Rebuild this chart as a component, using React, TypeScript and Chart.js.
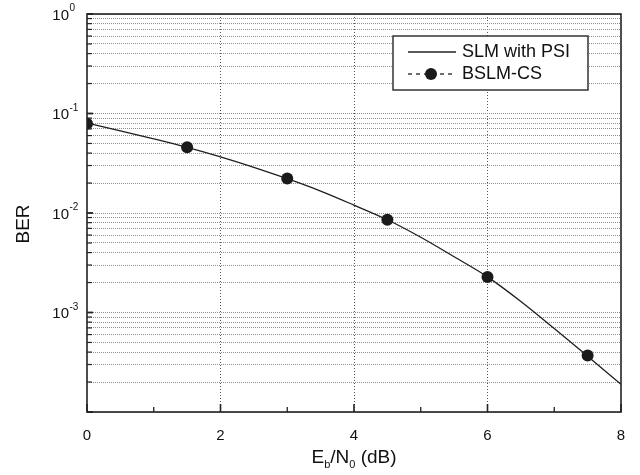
import { useEffect, useRef } from 'react';
import { Chart, registerables } from 'chart.js';

Chart.register(...registerables);

const snrLine = [0, 0.5, 1, 1.5, 2, 2.5, 3, 3.5, 4, 4.5, 5, 5.5, 6, 6.5, 7, 7.5, 8];
const berSLM = [0.080, 0.067, 0.0556, 0.0457, 0.0367, 0.0288, 0.0221, 0.0166, 0.0120, 0.00855, 0.0057, 0.00363, 0.00228, 0.00129, 0.00069, 0.000363, 0.00019];
const snrMarkers = [0, 1.5, 3, 4.5, 6, 7.5];
const berBSLM = [0.079, 0.0457, 0.0222, 0.00855, 0.00228, 0.00037];
const seriesNames = ['SLM with PSI', 'BSLM-CS'];
const xMajorTicks = [0, 2, 4, 6, 8];
const xMinorTicks = [1, 3, 5, 7];
const yDecades = [1, 0.1, 0.01, 0.001, 0.0001];
const yDecadeExponents = ['0', '-1', '-2', '-3', ''];
const yMantissas = [1, 2, 3, 4, 5, 6, 7, 8, 9];

const FONT = '"Liberation Sans", Arial, Helvetica, sans-serif';

const yGridValues: number[] = [];
yDecades.forEach((d) => {
  if (d < 1) yMantissas.forEach((m) => yGridValues.push(m * d));
});
yGridValues.push(1);

const overlay = {
  id: 'overlay',
  afterDraw(chart: any) {
    const ctx: CanvasRenderingContext2D = chart.ctx;
    const { left, right, top, bottom } = chart.chartArea;
    const xs = chart.scales.x;
    const ys = chart.scales.y;
    ctx.save();
    ctx.strokeStyle = '#222';
    ctx.fillStyle = '#111';

    // frame
    ctx.lineWidth = 1.6;
    ctx.strokeRect(left, top, right - left, bottom - top);

    // y ticks inside
    yGridValues.forEach((v) => {
      const py = ys.getPixelForValue(v);
      const major = yDecades.some((d) => Math.abs(d - v) / d < 1e-9);
      ctx.lineWidth = major ? 1.8 : 1.2;
      ctx.beginPath();
      ctx.moveTo(left, py);
      ctx.lineTo(left + (major ? 6 : 5), py);
      ctx.stroke();
    });
    // x ticks inside
    xMajorTicks.forEach((v) => {
      const px = xs.getPixelForValue(v);
      ctx.lineWidth = 1.6;
      ctx.beginPath();
      ctx.moveTo(px, bottom);
      ctx.lineTo(px, bottom - 8);
      ctx.stroke();
    });
    xMinorTicks.forEach((v) => {
      const px = xs.getPixelForValue(v);
      ctx.lineWidth = 1.3;
      ctx.beginPath();
      ctx.moveTo(px, bottom);
      ctx.lineTo(px, bottom - 5);
      ctx.stroke();
    });

    // y labels
    yDecades.forEach((d, i) => {
      const e = yDecadeExponents[i];
      if (!e) return;
      const py = ys.getPixelForValue(d);
      ctx.font = `15px ${FONT}`;
      ctx.textAlign = 'right';
      ctx.textBaseline = 'middle';
      ctx.fillText('10', 69, py + 1.5);
      ctx.font = `10px ${FONT}`;
      ctx.textAlign = 'left';
      ctx.fillText(e, 69.5, py - 5.5);
    });

    // x labels
    ctx.font = `15px ${FONT}`;
    ctx.textAlign = 'center';
    ctx.textBaseline = 'middle';
    xMajorTicks.forEach((v) => {
      const px = xs.getPixelForValue(v);
      ctx.fillText(String(v), px, 436);
    });

    // x title  E_b/N_0 (dB)
    const parts: [string, boolean][] = [['E', false], ['b', true], ['/N', false], ['0', true], [' (dB)', false]];
    const mainF = `19px ${FONT}`;
    const subF = `11px ${FONT}`;
    let total = 0;
    parts.forEach(([t, sub]) => {
      ctx.font = sub ? subF : mainF;
      total += ctx.measureText(t).width;
    });
    let cx = (left + right) / 2 - total / 2;
    ctx.textAlign = 'left';
    ctx.textBaseline = 'alphabetic';
    parts.forEach(([t, sub]) => {
      ctx.font = sub ? subF : mainF;
      ctx.fillText(t, cx, sub ? 468 : 463);
      cx += ctx.measureText(t).width;
    });

    // y title
    ctx.save();
    ctx.translate(29, 224);
    ctx.rotate(-Math.PI / 2);
    ctx.font = `19px ${FONT}`;
    ctx.textAlign = 'center';
    ctx.textBaseline = 'alphabetic';
    ctx.fillText('BER', 0, 0);
    ctx.restore();

    // legend
    ctx.fillStyle = '#fff';
    ctx.fillRect(393, 36, 195, 54);
    ctx.strokeStyle = '#333';
    ctx.lineWidth = 1.5;
    ctx.strokeRect(393, 36, 195, 54);
    ctx.strokeStyle = '#222';
    ctx.lineWidth = 1.3;
    ctx.beginPath();
    ctx.moveTo(408, 52);
    ctx.lineTo(456, 52);
    ctx.stroke();
    ctx.setLineDash([4, 4]);
    ctx.beginPath();
    ctx.moveTo(408, 74);
    ctx.lineTo(456, 74);
    ctx.stroke();
    ctx.setLineDash([]);
    ctx.fillStyle = '#1a1a1a';
    ctx.beginPath();
    ctx.arc(431, 74, 6, 0, Math.PI * 2);
    ctx.fill();
    ctx.fillStyle = '#111';
    ctx.font = `18px ${FONT}`;
    ctx.textAlign = 'left';
    ctx.textBaseline = 'middle';
    ctx.fillText(seriesNames[0], 462, 52);
    ctx.fillText(seriesNames[1], 462, 74);

    ctx.restore();
  },
};

export default function App() {
  const ref = useRef<HTMLCanvasElement | null>(null);
  useEffect(() => {
    if (!ref.current) return;
    const chart = new Chart(ref.current, {
      type: 'line',
      data: {
        datasets: [
          {
            label: seriesNames[0],
            data: snrLine.map((x, i) => ({ x, y: berSLM[i] })),
            borderColor: '#1e1e1e',
            borderWidth: 1.3,
            pointRadius: 0,
            cubicInterpolationMode: 'monotone',
            fill: false,
          },
          {
            label: seriesNames[1],
            data: snrMarkers.map((x, i) => ({ x, y: berBSLM[i] })),
            showLine: false,
            borderColor: '#1a1a1a',
            backgroundColor: '#1a1a1a',
            pointRadius: 6,
            pointBorderWidth: 0,
          },
        ],
      },
      options: {
        responsive: false,
        animation: false,
        layout: { padding: { top: 14, right: 19, left: 0, bottom: 0 } },
        plugins: { legend: { display: false }, tooltip: { enabled: false } },
        scales: {
          x: {
            type: 'linear',
            min: 0,
            max: 8,
            ticks: { stepSize: 2, display: false },
            grid: {
              drawTicks: false,
              color: (c: any) => (c.tick && (c.tick.value === 0 || c.tick.value === 8) ? 'rgba(0,0,0,0)' : '#555'),
              lineWidth: 1,
            },
            border: { display: false, dash: [1, 2] },
            afterFit: (s: any) => {
              s.height = 63;
            },
          },
          y: {
            type: 'logarithmic',
            min: 0.0001,
            max: 1,
            afterBuildTicks: (s: any) => {
              s.ticks = yGridValues.map((v) => ({ value: v }));
            },
            ticks: { display: false },
            grid: { drawTicks: false, color: '#8f8f8f', lineWidth: 1 },
            border: { display: false, dash: [1, 1] },
            afterFit: (s: any) => {
              s.width = 87;
            },
          },
        },
      },
      plugins: [overlay],
    } as any);
    return () => chart.destroy();
  }, []);
  return (
    <div style={{ position: 'absolute', left: 0, top: 0, width: 640, height: 475, background: '#fff' }}>
      <canvas ref={ref} width={640} height={475} />
    </div>
  );
}
